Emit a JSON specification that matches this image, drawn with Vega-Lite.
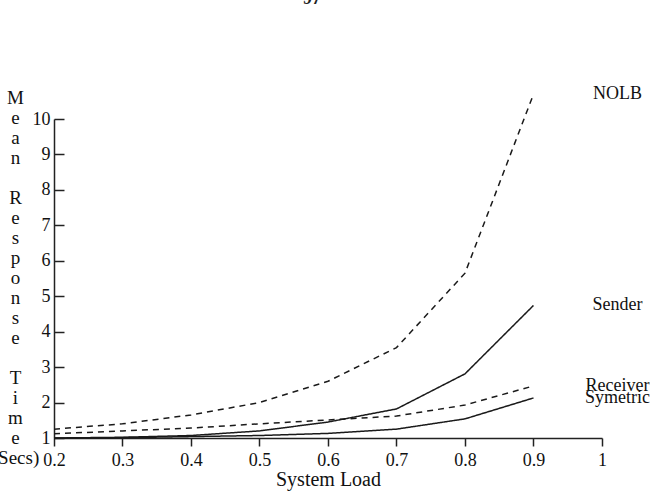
{
  "$schema": "https://vega.github.io/schema/vega-lite/v6.json",
  "width": 548,
  "height": 319,
  "autosize": {"type": "none"},
  "padding": {"left": 54, "top": 119, "right": 55, "bottom": 65},
  "background": "white",
  "title": {"text": "97", "anchor": "middle", "fontSize": 18, "font": "Liberation Serif", "fontWeight": "bold", "color": "#222", "offset": 77, "dx": -16},
  "config": {
    "view": {"stroke": null},
    "font": "Liberation Serif",
    "text": {"font": "Liberation Serif"}
  },
  "data": {
    "values": [
      {"series": "NOLB", "load": 0.2, "time": 1.25},
      {"series": "NOLB", "load": 0.3, "time": 1.4},
      {"series": "NOLB", "load": 0.4, "time": 1.65},
      {"series": "NOLB", "load": 0.5, "time": 2.0},
      {"series": "NOLB", "load": 0.6, "time": 2.6},
      {"series": "NOLB", "load": 0.7, "time": 3.55},
      {"series": "NOLB", "load": 0.8, "time": 5.65},
      {"series": "NOLB", "load": 0.9, "time": 10.7},
      {"series": "Sender", "load": 0.2, "time": 1.0},
      {"series": "Sender", "load": 0.3, "time": 1.02},
      {"series": "Sender", "load": 0.4, "time": 1.07},
      {"series": "Sender", "load": 0.5, "time": 1.2},
      {"series": "Sender", "load": 0.6, "time": 1.45},
      {"series": "Sender", "load": 0.7, "time": 1.82},
      {"series": "Sender", "load": 0.8, "time": 2.81},
      {"series": "Sender", "load": 0.9, "time": 4.74},
      {"series": "Receiver", "load": 0.2, "time": 1.12},
      {"series": "Receiver", "load": 0.3, "time": 1.2},
      {"series": "Receiver", "load": 0.4, "time": 1.28},
      {"series": "Receiver", "load": 0.5, "time": 1.4},
      {"series": "Receiver", "load": 0.6, "time": 1.51},
      {"series": "Receiver", "load": 0.7, "time": 1.62},
      {"series": "Receiver", "load": 0.8, "time": 1.93},
      {"series": "Receiver", "load": 0.9, "time": 2.47},
      {"series": "Symetric", "load": 0.2, "time": 1.0},
      {"series": "Symetric", "load": 0.3, "time": 1.01},
      {"series": "Symetric", "load": 0.4, "time": 1.04},
      {"series": "Symetric", "load": 0.5, "time": 1.07},
      {"series": "Symetric", "load": 0.6, "time": 1.13},
      {"series": "Symetric", "load": 0.7, "time": 1.25},
      {"series": "Symetric", "load": 0.8, "time": 1.54},
      {"series": "Symetric", "load": 0.9, "time": 2.13}
    ]
  },
  "encoding": {
    "x": {
      "field": "load", "type": "quantitative",
      "scale": {"domain": [0.2, 1], "nice": false, "zero": false},
      "axis": {
        "values": [0.2, 0.3, 0.4, 0.5, 0.6, 0.7, 0.8, 0.9, 1],
        "format": ".1~f",
        "title": "System Load",
        "grid": false,
        "domainColor": "#222", "domainWidth": 1.5,
        "tickColor": "#222", "tickWidth": 1.5, "tickSize": 8,
        "labelFont": "Liberation Serif", "labelFontSize": 18, "labelColor": "#111",
        "labelPadding": 5, "labelFlush": false,
        "titleFont": "Liberation Serif", "titleFontSize": 20, "titleFontWeight": "normal", "titleColor": "#111",
        "titlePadding": 0
      }
    },
    "y": {
      "field": "time", "type": "quantitative",
      "scale": {"domain": [1, 10], "nice": false, "zero": false},
      "axis": {
        "values": [1, 2, 3, 4, 5, 6, 7, 8, 9, 10],
        "title": ["M", "e", "a", "n", "\u200b", "R", "e", "s", "p", "o", "n", "s", "e", "\u200b", "T", "i", "m", "e", "(Secs)"],
        "titleAngle": 0, "titleAlign": "center", "titleBaseline": "top",
        "titleX": -39, "titleY": -31, "titleLineHeight": 20,
        "titleFont": "Liberation Serif", "titleFontSize": 19, "titleFontWeight": "normal", "titleColor": "#111",
        "grid": false,
        "domainColor": "#222", "domainWidth": 1.5,
        "tickColor": "#222", "tickWidth": 1.5, "tickSize": -10,
        "labelFont": "Liberation Serif", "labelFontSize": 18, "labelColor": "#111",
        "labelPadding": 14, "labelFlush": false
      }
    }
  },
  "layer": [
    {
      "mark": {"type": "line", "clip": false, "strokeWidth": 1.5, "color": "#1a1a1a"},
      "encoding": {
        "strokeDash": {
          "field": "series", "type": "nominal",
          "scale": {"domain": ["NOLB", "Sender", "Receiver", "Symetric"], "range": [[6, 5], [1, 0], [6, 5], [1, 0]]},
          "legend": null
        }
      }
    },
    {
      "transform": [{"filter": "datum.load == 0.9"}],
      "mark": {"type": "text", "dx": 84, "align": "center", "baseline": "middle", "fontSize": 18, "font": "Liberation Serif", "color": "#111", "clip": false},
      "encoding": {"text": {"field": "series", "type": "nominal"}}
    }
  ]
}
